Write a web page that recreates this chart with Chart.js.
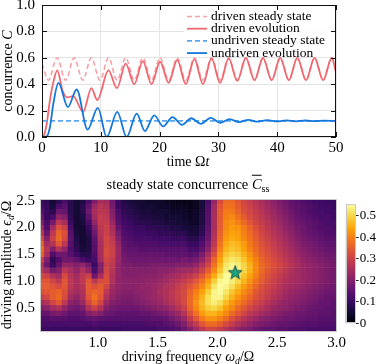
<!DOCTYPE html>
<html>
<head>
<meta charset="utf-8">
<script src="https://cdn.jsdelivr.net/npm/chart.js@4.4.1/dist/chart.umd.min.js"></script>
<style>
  html, body { margin: 0; padding: 0; background: #fff; }
  #fig { position: relative; width: 379px; height: 364px; overflow: hidden; font-family: 'Liberation Serif', serif; color: #000; }
  canvas { position: absolute; }
  .lbl { position: absolute; white-space: nowrap; font-size: 14px; line-height: 1; transform: translate(-50%, -50%); }
  .rot { transform: translate(-50%, -50%) rotate(-90deg); }
  .ov { text-decoration: overline; }
  sub { font-size: 70%; vertical-align: -0.35em; line-height: 0; }
</style>
</head>
<body>
<div id="fig">
  <canvas id="lineChart" width="379" height="172" style="left:0;top:0"></canvas>
  <canvas id="mapChart" width="379" height="194" style="left:0;top:170px"></canvas>
  <canvas id="barChart" width="49" height="145" style="left:330px;top:190px"></canvas>
  <div class="lbl rot" style="left:8px;top:71px">concurrence <i>C</i></div>
  <div class="lbl" style="left:188px;top:162px">time Ω<i>t</i></div>
  <div class="lbl" style="left:188px;top:184px;font-size:14.5px">steady state concurrence <i class="ov">C</i><sub>ss</sub></div>
  <div class="lbl rot" style="left:7px;top:265px">driving amplitude <i>ϵ<sub>d</sub></i>/Ω</div>
  <div class="lbl" style="left:188px;top:357px">driving frequency <i>ω<sub>d</sub></i>/Ω</div>
</div>
<script>
Chart.defaults.font.family = "'Liberation Serif', serif";
Chart.defaults.color = '#000';

// ---- top panel: concurrence vs time ----
const timeTicks = [0, 10, 20, 30, 40, 50];
const concTicks = [0, 0.2, 0.4, 0.6, 0.8, 1.0];

const drivenSteadyT = [0, 1.1, 2.55, 4.02, 5.47, 6.94, 8.39, 9.86, 11.31, 12.78, 14.23, 15.7, 17.15, 18.62, 20.07, 21.54, 22.99, 24.46, 25.91, 27.38, 28.83, 30.3, 31.75, 33.22, 34.67, 36.14, 37.59, 39.06, 40.51, 41.98, 43.43, 44.9, 46.35, 47.82, 49.27, 50];
const drivenSteadyC = [0.555, 0.43, 0.6, 0.43, 0.6, 0.43, 0.6, 0.43, 0.6, 0.43, 0.6, 0.43, 0.6, 0.43, 0.6, 0.43, 0.6, 0.43, 0.6, 0.43, 0.6, 0.43, 0.6, 0.43, 0.6, 0.43, 0.6, 0.43, 0.6, 0.43, 0.6, 0.43, 0.6, 0.43, 0.6, 0.5];

const drivenEvoT = [0, 0.4, 0.8, 1.35, 1.9, 2.6, 3.5, 4.3, 5.3, 7.0, 8.4, 9.4, 11.3, 12.75, 14.23, 15.7, 17.15, 18.62, 20.07, 21.54, 22.99, 24.46, 25.91, 27.38, 28.83, 30.3, 31.75, 33.22, 34.67, 36.14, 37.59, 39.06, 40.51, 41.98, 43.43, 44.9, 46.35, 47.82, 49.27, 50];
const drivenEvoC = [0, 0.02, 0.1, 0.28, 0.41, 0.505, 0.35, 0.3, 0.31, 0.19, 0.37, 0.28, 0.505, 0.37, 0.556, 0.4, 0.575, 0.4, 0.57, 0.41, 0.585, 0.4, 0.59, 0.4, 0.595, 0.41, 0.595, 0.425, 0.6, 0.43, 0.6, 0.43, 0.6, 0.43, 0.6, 0.43, 0.6, 0.43, 0.6, 0.49];

const undrivenSteadyT = [0, 50];
const undrivenSteadyC = [0.122, 0.122];

const undrivenEvoT = [0, 0.8, 1.36, 1.92, 2.8, 4.4, 5.9, 7.75, 9.5, 11.0, 12.8, 14.4, 16.1, 17.5, 19.1, 20.6, 22.2, 23.8, 25.4, 27.0, 28.7, 30.3, 31.9, 33.5, 35.1, 36.7, 38.3, 40.0, 41.6, 43.2, 44.8, 46.4, 48.0, 50];
const undrivenEvoC = [0, 0.005, 0.076, 0.25, 0.41, 0.227, 0.36, 0.056, 0.22, 0, 0.19, 0, 0.177, 0.045, 0.164, 0.08, 0.15, 0.092, 0.142, 0.1, 0.145, 0.108, 0.135, 0.113, 0.13, 0.116, 0.128, 0.118, 0.126, 0.119, 0.125, 0.12, 0.124, 0.122];

// ---- bottom panel: steady state concurrence map (values x100) ----
const freqTicks = [1.0, 1.5, 2.0, 2.5, 3.0];
const ampTicks = [0.5, 1.0, 1.5, 2.0, 2.5];
const cbarTicks = [0, 0.1, 0.2, 0.3, 0.4, 0.5];

const freqs = [0.525, 0.575, 0.625, 0.675, 0.725, 0.775, 0.825, 0.875, 0.925, 0.975,
  1.025, 1.075, 1.125, 1.175, 1.225, 1.275, 1.325, 1.375, 1.425, 1.475,
  1.525, 1.575, 1.625, 1.675, 1.725, 1.775, 1.825, 1.875, 1.925, 1.975,
  2.025, 2.075, 2.125, 2.175, 2.225, 2.275, 2.325, 2.375, 2.425, 2.475,
  2.525, 2.575, 2.625, 2.675, 2.725, 2.775, 2.825, 2.875, 2.925, 2.975];
const amps = [2.5, 2.4, 2.3, 2.2, 2.1, 2.0, 1.9, 1.8, 1.7, 1.6, 1.5, 1.4, 1.3, 1.2, 1.1, 1.0, 0.9, 0.8, 0.7, 0.6, 0.5, 0.4, 0.3, 0.2, 0.1];

const concMap = [
  [10,9,5,8,12,8,5,7,12,19,25,24,17,10,7, 6,5,5,4,4,4,3,3,2,2, 2,3,6,12,22,32,37,37,34,31,29,27,25,23,21,19,17,15,14,13,12,11,11,10,10],
  [12,10,6,12,14,8,5,8,15,23,27,26,18,10,8, 7,6,5,5,5,4,4,3,3,3, 2,3,6,13,24,34,38,38,35,32,30,28,26,24,22,20,18,16,15,14,13,12,11,11,10],
  [14,10,8,17,16,8,5,8,17,25,28,27,20,12,9, 8,7,6,6,5,5,5,4,4,4, 3,4,7,14,25,35,39,39,36,33,31,29,27,25,23,21,19,17,15,14,13,12,12,11,11],
  [17,10,12,22,20,9,5,7,15,24,29,28,21,13,10, 9,8,7,7,6,6,5,5,5,4, 3,4,7,14,25,35,40,41,38,35,32,30,28,26,24,22,20,18,16,15,14,13,12,12,11],
  [20,12,18,28,25,10,5,6,12,22,29,29,23,14,11, 10,9,8,8,7,7,6,6,5,5, 4,4,7,14,25,35,41,42,40,37,34,31,29,27,25,23,21,19,17,16,15,14,13,12,12],
  [24,13,24,33,30,12,5,5,10,19,28,30,25,16,12, 11,10,10,9,9,8,8,7,7,6, 5,5,8,15,25,35,41,43,42,39,36,33,30,28,26,24,22,20,18,17,15,14,13,13,12],
  [28,16,28,36,33,14,6,5,8,17,27,30,26,18,13, 12,11,11,10,10,9,9,9,8,8, 6,6,9,16,26,36,42,44,43,40,37,34,31,29,27,25,23,21,19,17,16,15,14,13,13],
  [32,20,30,37,32,15,7,5,7,15,26,31,28,20,14, 13,12,12,12,11,11,11,10,10,10, 8,8,11,17,27,37,43,45,44,41,38,35,32,30,28,26,24,22,20,18,17,16,15,14,14],
  [36,24,27,34,28,14,8,5,7,14,25,31,29,22,15, 14,13,13,13,13,12,12,12,12,12, 10,10,13,19,28,38,45,47,46,43,39,36,33,31,29,27,25,23,21,19,18,17,16,15,15],
  [38,27,20,26,22,13,9,6,7,14,25,32,30,23,16, 15,15,14,14,14,14,14,14,14,14, 12,12,15,21,30,40,46,48,47,44,40,37,34,32,30,28,26,24,22,20,19,18,17,16,16],
  [36,25,13,17,17,14,11,8,8,13,25,32,30,23,17, 16,16,16,16,16,16,15,15,15,15, 14,15,19,25,33,42,48,50,49,46,42,38,35,33,31,29,27,25,23,21,20,19,18,17,17],
  [30,20,9,13,17,17,15,12,10,12,24,31,29,23,18, 17,17,17,17,17,17,17,17,17,18, 17,18,22,28,36,44,50,52,51,48,44,40,36,34,32,30,28,26,24,22,21,20,19,18,18],
  [26,17,10,16,22,22,20,22,18,10,20,30,28,22,19, 19,18,18,18,19,19,19,19,20,20, 20,22,26,31,38,46,52,54,53,50,46,41,37,35,33,31,29,27,25,23,22,21,20,19,18],
  [28,24,18,20,28,25,22,26,22,12,20,31,27,22,20, 20,20,20,20,20,21,21,22,23,24, 24,26,30,35,41,48,53,55,54,50,46,41,37,34,32,30,28,26,24,23,22,21,20,19,18],
  [32,30,26,24,32,27,24,28,30,17,25,32,26,22,20, 20,20,21,21,21,22,23,24,25,27, 28,30,34,39,45,51,55,55,52,48,44,40,36,33,31,29,27,25,24,23,22,21,20,19,18],
  [34,34,31,28,34,28,25,28,34,28,32,33,26,22,21, 21,21,21,22,22,23,24,26,27,29, 31,34,38,43,49,54,55,53,50,46,42,38,35,32,30,28,26,25,24,23,22,21,20,19,18],
  [35,35,34,32,34,28,25,27,35,33,35,31,24,22,21, 21,21,22,22,23,24,26,27,29,31, 34,37,41,46,52,55,54,51,47,43,40,36,33,31,29,27,25,24,23,22,21,20,19,18,17],
  [33,34,35,36,33,26,24,26,35,36,35,28,23,21,20, 20,21,21,22,23,25,26,28,30,32, 36,40,44,49,54,55,52,48,45,41,38,34,32,30,28,26,24,23,22,21,20,19,18,17,17],
  [30,31,35,37,32,24,22,25,34,38,34,26,22,20,19, 19,20,21,22,23,24,26,28,30,32, 37,41,46,51,54,54,50,46,42,39,36,33,31,29,27,25,23,22,21,20,19,18,17,16,16],
  [25,26,31,34,28,21,20,23,31,36,31,23,20,19,18, 18,19,20,21,22,23,25,27,29,32, 37,42,47,51,53,51,47,43,40,37,34,31,29,27,25,23,22,21,20,19,18,17,16,16,15],
  [20,21,24,26,22,18,17,19,26,30,26,20,18,17,17, 17,17,18,19,20,21,22,24,27,30, 36,41,46,49,50,48,44,41,37,34,31,29,27,25,23,22,21,20,19,18,17,16,16,15,15],
  [16,16,18,19,17,15,15,16,20,22,20,17,16,15,15, 15,15,16,16,17,18,19,21,23,27, 33,38,43,46,46,44,41,37,34,31,28,26,24,23,21,20,19,18,17,17,16,16,15,15,14],
  [13,13,14,14,14,13,13,14,15,16,15,14,14,14,14, 14,14,14,14,15,15,16,18,20,23, 29,34,39,42,42,40,37,33,30,27,25,23,21,20,19,18,17,17,16,16,15,15,14,14,14],
  [12,12,12,12,12,12,12,12,12,13,12,12,12,12,12, 12,12,12,13,13,13,14,15,17,20, 25,29,34,37,37,35,32,29,26,24,22,20,19,18,17,16,16,15,15,14,14,14,13,13,13],
  [10,10,10,10,10,10,10,10,10,11,10,10,10,10,11, 11,11,11,11,11,12,12,13,14,17, 20,24,28,31,31,29,27,24,22,20,19,17,16,15,15,14,14,13,13,13,12,12,12,12,12]
];

const optimum = { x: 2.15, y: 1.16 };
const cMax = 0.555;

// inferno colormap anchors
const inferno = [[0,0,4],[22,11,57],[66,10,104],[106,23,110],[147,38,103],[188,55,84],[221,81,58],[243,120,25],[252,165,10],[246,215,70],[252,255,164]];
function cmap(t) {
  t = Math.max(0, Math.min(1, t)) * 10;
  const i = Math.min(9, Math.floor(t)), f = t - i;
  const a = inferno[i], b = inferno[i + 1];
  return 'rgb(' + a.map((v, k) => Math.round(v + (b[k] - v) * f)).join(',') + ')';
}

function fixedTicks(list) {
  return s => { s.ticks = list.map(v => ({ value: v })); };
}

function framePlugin(color, tickLen) {
  return {
    id: 'frame',
    afterDraw(chart) {
      const c = chart.ctx, a = chart.chartArea, sx = chart.scales.x, sy = chart.scales.y;
      c.save();
      c.strokeStyle = color;
      c.lineWidth = 1;
      c.strokeRect(Math.round(a.left) + 0.5, Math.round(a.top) + 0.5, Math.round(a.width) - 1, Math.round(a.height) - 1);
      if (tickLen) {
        c.beginPath();
        sx.ticks.forEach(t => {
          const x = Math.round(sx.getPixelForValue(t.value)) + 0.5;
          c.moveTo(x, a.bottom); c.lineTo(x, a.bottom - tickLen);
          c.moveTo(x, a.top); c.lineTo(x, a.top + tickLen);
        });
        sy.ticks.forEach(t => {
          const y = Math.round(sy.getPixelForValue(t.value)) + 0.5;
          c.moveTo(a.left, y); c.lineTo(a.left + tickLen, y);
          c.moveTo(a.right, y); c.lineTo(a.right - tickLen, y);
        });
        c.stroke();
      }
      c.restore();
    }
  };
}

const insideLegend = {
  id: 'insideLegend',
  afterDatasetsDraw(chart) {
    const c = chart.ctx;
    c.save();
    c.fillStyle = 'rgba(255,255,255,0.85)';
    c.fillRect(184, 7, 150, 50);
    c.font = "13.5px 'Liberation Serif'";
    c.textBaseline = 'middle';
    chart.data.datasets.forEach((ds, i) => {
      const y = 16.5 + i * 12.2;
      c.strokeStyle = ds.borderColor;
      c.lineWidth = ds.borderWidth;
      c.setLineDash(ds.borderDash || []);
      c.beginPath(); c.moveTo(187, y); c.lineTo(207, y); c.stroke();
      c.setLineDash([]);
      c.fillStyle = '#000';
      c.fillText(ds.label, 211, y);
    });
    c.restore();
  }
};

function series(ts, cs) { return ts.map((t, i) => ({ x: t, y: cs[i] })); }

new Chart(document.getElementById('lineChart'), {
  type: 'line',
  data: {
    datasets: [
      { label: 'driven steady state', data: series(drivenSteadyT, drivenSteadyC), borderColor: '#f6a2a7', borderWidth: 1.6, borderDash: [5, 3], order: 4 },
      { label: 'driven evolution', data: series(drivenEvoT, drivenEvoC), borderColor: '#f2666f', borderWidth: 1.8, order: 3 },
      { label: 'undriven steady state', data: series(undrivenSteadyT, undrivenSteadyC), borderColor: '#5aa7ee', borderWidth: 1.6, borderDash: [5, 3], order: 2 },
      { label: 'undriven evolution', data: series(undrivenEvoT, undrivenEvoC), borderColor: '#1577db', borderWidth: 1.8, order: 1 }
    ]
  },
  options: {
    responsive: false,
    animation: false,
    layout: { padding: { top: 5, right: 43, left: 0, bottom: 0 } },
    elements: { point: { radius: 0 }, line: { cubicInterpolationMode: 'monotone' } },
    scales: {
      x: {
        type: 'linear', min: 0, max: 50,
        afterBuildTicks: fixedTicks(timeTicks),
        ticks: { font: { size: 15 }, padding: 2 },
        grid: { color: '#e4e4e4', drawTicks: false },
        border: { display: false },
        afterFit: s => { s.height = 35; s.paddingLeft = 0; s.paddingRight = 0; }
      },
      y: {
        min: 0, max: 1,
        afterBuildTicks: fixedTicks(concTicks),
        ticks: { font: { size: 15 }, padding: 7, callback: v => v.toFixed(1) },
        grid: { color: '#e4e4e4', drawTicks: false },
        border: { display: false },
        afterFit: s => { s.width = 42; s.paddingTop = 0; s.paddingBottom = 0; }
      }
    },
    plugins: { legend: { display: false }, tooltip: { enabled: false } }
  },
  plugins: [framePlugin('#111', 5), insideLegend]
});

// star marker image
const star = document.createElement('canvas');
star.width = 16; star.height = 16;
(function () {
  const c = star.getContext('2d');
  c.beginPath();
  for (let k = 0; k < 10; k++) {
    const r = k % 2 ? 3 : 7.2;
    const ang = -Math.PI / 2 + k * Math.PI / 5;
    const px = 8 + r * Math.cos(ang), py = 8.6 + r * Math.sin(ang);
    k ? c.lineTo(px, py) : c.moveTo(px, py);
  }
  c.closePath();
  c.fillStyle = '#16a585';
  c.fill();
  c.lineWidth = 0.9;
  c.strokeStyle = '#123d35';
  c.stroke();
})();

const mapDatasets = amps.map((a, r) => ({
  type: 'bar',
  data: freqs.map(f => ({ x: f, y: [a - 0.05, a + 0.05] })),
  backgroundColor: concMap[r].map(v => cmap(v / 100 / cMax)),
  borderWidth: 0,
  barPercentage: 1,
  categoryPercentage: 1,
  grouped: false,
  order: 2
}));
mapDatasets.push({
  type: 'scatter',
  data: [optimum],
  pointStyle: star,
  order: 0
});

new Chart(document.getElementById('mapChart'), {
  type: 'bar',
  data: { datasets: mapDatasets },
  options: {
    responsive: false,
    animation: false,
    layout: { padding: { top: 29, right: 42.3, left: 0, bottom: 0 } },
    scales: {
      x: {
        type: 'linear', min: 0.515, max: 3.0, offset: false,
        afterBuildTicks: fixedTicks(freqTicks),
        ticks: { font: { size: 15 }, padding: 2, callback: v => v.toFixed(1) },
        grid: { display: false, drawTicks: false, offset: false },
        border: { display: false },
        afterFit: s => { s.height = 32.3; s.paddingLeft = 0; s.paddingRight = 0; }
      },
      y: {
        type: 'linear', min: 0.05, max: 2.53,
        afterBuildTicks: fixedTicks(ampTicks),
        ticks: { font: { size: 15 }, padding: 5, callback: v => v.toFixed(1) },
        grid: { display: false, drawTicks: false },
        border: { display: false },
        afterFit: s => { s.width = 40; s.paddingTop = 0; s.paddingBottom = 0; }
      }
    },
    plugins: { legend: { display: false }, tooltip: { enabled: false } }
  },
  plugins: [framePlugin('#c9c9c9', 0)]
});

// colour bar
new Chart(document.getElementById('barChart'), {
  type: 'bar',
  data: {
    labels: [''],
    datasets: [{
      data: [[0, cMax]],
      borderWidth: 0,
      barPercentage: 1,
      categoryPercentage: 1,
      backgroundColor: ctx => {
        const ch = ctx.chart, a = ch.chartArea;
        if (!a) return '#000';
        const g = ch.ctx.createLinearGradient(0, a.bottom, 0, a.top);
        inferno.forEach((col, k) => g.addColorStop(k / 10, 'rgb(' + col.join(',') + ')'));
        return g;
      }
    }]
  },
  options: {
    responsive: false,
    animation: false,
    layout: { padding: { top: 14, right: 0, left: 15.7, bottom: 11.7 } },
    scales: {
      x: { display: false },
      y: {
        position: 'right', min: 0, max: cMax,
        afterBuildTicks: fixedTicks(cbarTicks),
        ticks: { font: { size: 13 }, padding: 1, callback: v => v === 0 ? '0' : v.toFixed(1) },
        grid: { drawOnChartArea: false, drawTicks: true, tickLength: 3, color: '#222' },
        border: { display: false },
        afterFit: s => { s.width = 23.3; s.paddingTop = 0; s.paddingBottom = 0; }
      }
    },
    plugins: { legend: { display: false }, tooltip: { enabled: false } }
  },
  plugins: [framePlugin('#c9c9c9', 0)]
});
</script>
</body>
</html>
